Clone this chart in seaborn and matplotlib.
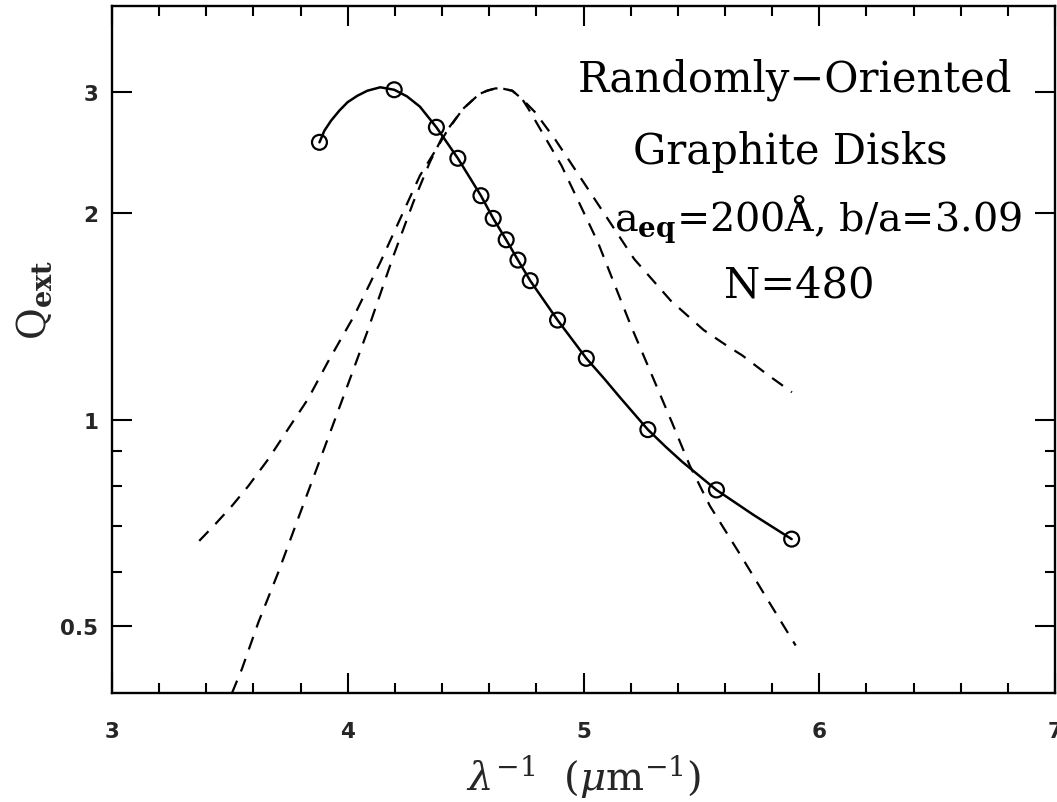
import numpy as np
import pandas as pd
import matplotlib
matplotlib.use("Agg")
import matplotlib.pyplot as plt
import matplotlib.ticker as mticker
import seaborn as sns

# ---- data ----
# open circles (computed points)
circ_x = [3.880, 4.197, 4.376, 4.467, 4.565, 4.617, 4.672, 4.722, 4.774, 4.890, 5.012, 5.273, 5.564, 5.883]
circ_y = [2.533, 3.021, 2.664, 2.401, 2.118, 1.963, 1.827, 1.707, 1.593, 1.396, 1.228, 0.967, 0.790, 0.670]

# solid curve through the circles
solid_x = [3.880, 3.901, 3.929, 3.964, 3.999, 4.041, 4.083, 4.138, 4.197, 4.251, 4.306, 4.376,
           4.467, 4.565, 4.617, 4.672, 4.722, 4.774, 4.890, 5.012, 5.089, 5.150, 5.273, 5.350,
           5.419, 5.564, 5.720, 5.883]
solid_y = [2.533, 2.634, 2.723, 2.816, 2.897, 2.961, 3.011, 3.046, 3.021, 2.955, 2.855, 2.664,
           2.401, 2.118, 1.963, 1.827, 1.707, 1.593, 1.396, 1.228, 1.146, 1.082, 0.967, 0.912,
           0.868, 0.790, 0.727, 0.670]

# broad dashed curve
dashA_x = [3.370, 3.439, 3.509, 3.579, 3.663, 3.747, 3.831, 3.915, 4.027, 4.138, 4.222, 4.306,
           4.376, 4.418, 4.488, 4.558, 4.592, 4.627, 4.662, 4.698, 4.740, 4.795, 4.879, 4.935,
           5.075, 5.215, 5.370, 5.510, 5.610, 5.675, 5.780, 5.884]
dashA_y = [0.666, 0.705, 0.749, 0.801, 0.876, 0.969, 1.071, 1.212, 1.416, 1.694, 1.959, 2.265,
           2.477, 2.620, 2.832, 2.978, 3.012, 3.035, 3.030, 3.011, 2.928, 2.801, 2.560, 2.395,
           2.026, 1.713, 1.490, 1.350, 1.280, 1.239, 1.163, 1.096]

# narrow dashed curve
dashB_x = [3.509, 3.551, 3.621, 3.705, 3.789, 3.873, 3.957, 4.013, 4.082, 4.194, 4.278, 4.348,
           4.404, 4.488, 4.558, 4.592, 4.627, 4.662, 4.698, 4.740, 4.767, 4.907, 5.061, 5.201,
           5.375, 5.451, 5.536, 5.676, 5.788, 5.900]
dashB_y = [0.400, 0.4335, 0.507, 0.599, 0.717, 0.857, 1.025, 1.155, 1.340, 1.732, 2.072, 2.369,
           2.590, 2.832, 2.978, 3.012, 3.035, 3.030, 3.011, 2.928, 2.832, 2.342, 1.812, 1.370,
           0.991, 0.857, 0.749, 0.627, 0.542, 0.469]

x_major = [3, 4, 5, 6, 7]
y_major = [0.5, 1, 2, 3]
y_major_labels = ["0.5", "1", "2", "3"]
y_minor = [0.6, 0.7, 0.8, 0.9]

ann_lines = ["Randomly\u2212Oriented", "Graphite Disks",
             r"a$_{\bf eq}$=200Å, b/a=3.09", "N=480"]

# ---- figure ----
sns.set_style("ticks")
plt.rcParams["mathtext.fontset"] = "dejavuserif"
plt.rcParams["font.family"] = ["DejaVu Serif"]

fig = plt.figure(figsize=(10.57, 8.03), dpi=100)
ax = fig.add_axes([112 / 1057, 1 - 694 / 803, 943 / 1057, 687 / 803])

dash = (0, (6, 4.5))
sns.lineplot(x=dashA_x, y=dashA_y, sort=False, estimator=None, color="black",
             linewidth=1.6, linestyle=dash, ax=ax)
sns.lineplot(x=dashB_x, y=dashB_y, sort=False, estimator=None, color="black",
             linewidth=1.6, linestyle=dash, ax=ax)
sns.lineplot(x=solid_x, y=solid_y, sort=False, estimator=None, color="black",
             linewidth=1.8, ax=ax)
sns.scatterplot(x=circ_x, y=circ_y, marker="o", s=115, color="black",
                linewidth=1.6, ax=ax, zorder=5)
for coll in ax.collections:
    coll.set_facecolor("none")
    coll.set_edgecolor("black")
    coll.set_linewidth(1.6)

ax.set_yscale("log")
ax.set_xlim(3, 7)
ax.set_ylim(0.4, 4)

ax.xaxis.set_major_locator(mticker.FixedLocator(x_major))
ax.xaxis.set_major_formatter(mticker.FixedFormatter([str(v) for v in x_major]))
ax.xaxis.set_minor_locator(mticker.MultipleLocator(0.2))
ax.yaxis.set_major_locator(mticker.FixedLocator(y_major))
ax.yaxis.set_major_formatter(mticker.FixedFormatter(y_major_labels))
ax.yaxis.set_minor_locator(mticker.FixedLocator(y_minor))
ax.yaxis.set_minor_formatter(mticker.NullFormatter())

ax.tick_params(which="both", direction="in", top=True, right=True, width=1.5, color="black")
ax.tick_params(which="major", length=14.5)
ax.tick_params(which="minor", length=7.5)
ax.tick_params(axis="x", which="major", pad=20)
ax.tick_params(axis="y", which="major", pad=10)
for lab in ax.get_xticklabels() + ax.get_yticklabels():
    lab.set_fontfamily("DejaVu Sans")
    lab.set_fontweight("bold")
    lab.set_fontsize(15.5)

for sp in ax.spines.values():
    sp.set_linewidth(1.7)
    sp.set_color("black")

ax.set_xlabel(r"$\lambda^{-1}\ \ (\mu{\rm m}^{-1})$", fontsize=29)
ax.xaxis.label.set_va("center")
ax.xaxis.set_label_coords(0.5, -0.121)
ax.set_ylabel(r"$\mathrm{Q}_{\bf ext}$", fontsize=28)
ax.yaxis.label.set_va("center")
ax.yaxis.set_label_coords(-0.082, 0.573)

ann_pos = [(0.724, 0.894), (0.719, 0.789), (0.749, 0.690), (0.729, 0.595)]
ann_size = [30, 30, 28.5, 30]
for txt, (px, py), fs in zip(ann_lines, ann_pos, ann_size):
    ax.text(px, py, txt, transform=ax.transAxes, ha="center", va="center",
            fontsize=fs, color="black")

fig.savefig("out.png", dpi=100)
